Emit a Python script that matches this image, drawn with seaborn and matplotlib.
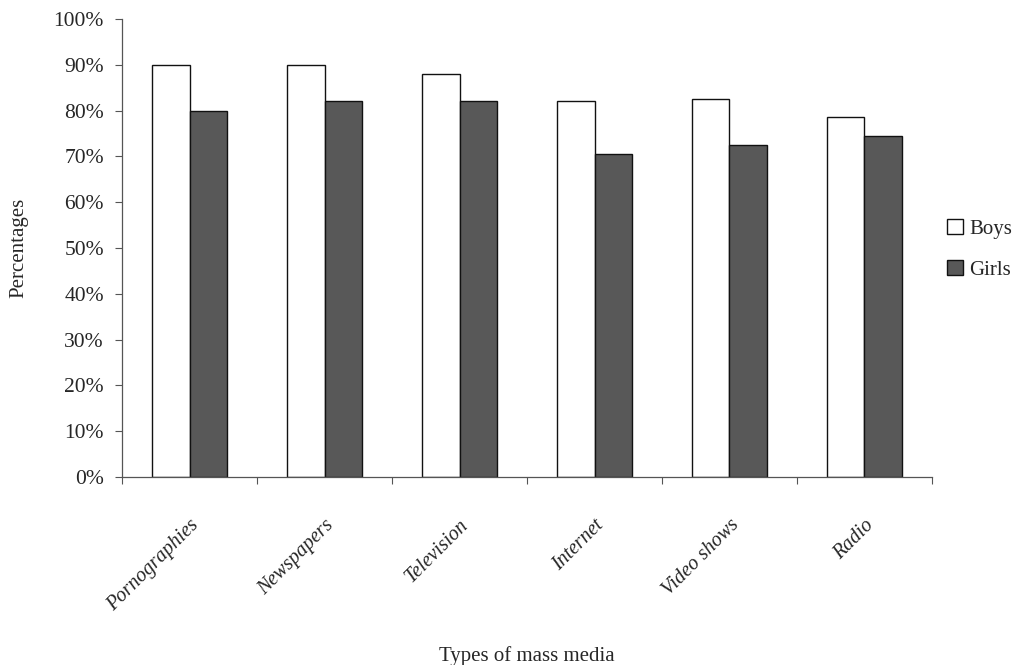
import matplotlib
matplotlib.use("Agg")
import matplotlib.pyplot as plt
import seaborn as sns
import pandas as pd
import numpy as np
from matplotlib.ticker import FixedLocator, PercentFormatter
from matplotlib.patches import Patch

categories = ["Pornographies", "Newspapers", "Television", "Internet", "Video shows", "Radio"]
boys = [90, 90, 88, 82, 82.5, 78.5]
girls = [80, 82, 82, 70.5, 72.5, 74.5]
series = ["Boys", "Girls"]
colors = ["#ffffff", "#585858"]

df = pd.DataFrame({
    "media": categories * 2,
    "pct": boys + girls,
    "sex": ["Boys"] * len(categories) + ["Girls"] * len(categories),
})

sns.set_theme(style="white")
plt.rcParams["font.family"] = ["Liberation Serif", "DejaVu Serif"]

fig = plt.figure(figsize=(10.28, 6.65), dpi=100)
ax = fig.add_axes([0.1187, 0.2827, 0.7879, 0.6887])

sns.barplot(data=df, x="media", y="pct", hue="sex", order=categories, hue_order=series,
            palette=colors, width=0.55, edgecolor="#111111", linewidth=1.0, ax=ax, legend=False)

ax.set_ylim(0, 100)
ax.set_xlim(-0.5, len(categories) - 0.5)
ax.set_yticks(np.arange(0, 101, 10))
ax.yaxis.set_major_formatter(PercentFormatter(decimals=0))
ax.tick_params(axis="y", which="major", direction="out", length=5, width=0.8, color="#555555",
               labelsize=15.5, pad=8, left=True)
ax.xaxis.set_minor_locator(FixedLocator(np.arange(-0.5, len(categories), 1.0)))
ax.tick_params(axis="x", which="major", length=0, labelsize=14.5, pad=28)
ax.tick_params(axis="x", which="minor", direction="out", length=5, width=0.8, color="#555555", bottom=True)
for lbl in ax.get_xticklabels():
    lbl.set_rotation(45)
    lbl.set_ha("right")
    lbl.set_rotation_mode("anchor")
    lbl.set_style("italic")

for s in ["top", "right"]:
    ax.spines[s].set_visible(False)
for s in ["left", "bottom"]:
    ax.spines[s].set_color("#555555")
    ax.spines[s].set_linewidth(0.9)

ax.set_ylabel("Percentages", fontsize=15)
ax.yaxis.set_label_coords(-0.116, 0.5)
ax.set_xlabel("Types of mass media", fontsize=15)
ax.xaxis.set_label_coords(0.5, -0.37)

handles = [Patch(facecolor=c, edgecolor="#111111", linewidth=1.0, label=s) for s, c in zip(series, colors)]
fig.legend(handles=handles, loc="center left", bbox_to_anchor=(0.903, 0.625), frameon=False,
           fontsize=15, handlelength=0.75, handleheight=0.75, handletextpad=0.3, labelspacing=1.0)

fig.savefig("out.png", dpi=100, facecolor="white")
